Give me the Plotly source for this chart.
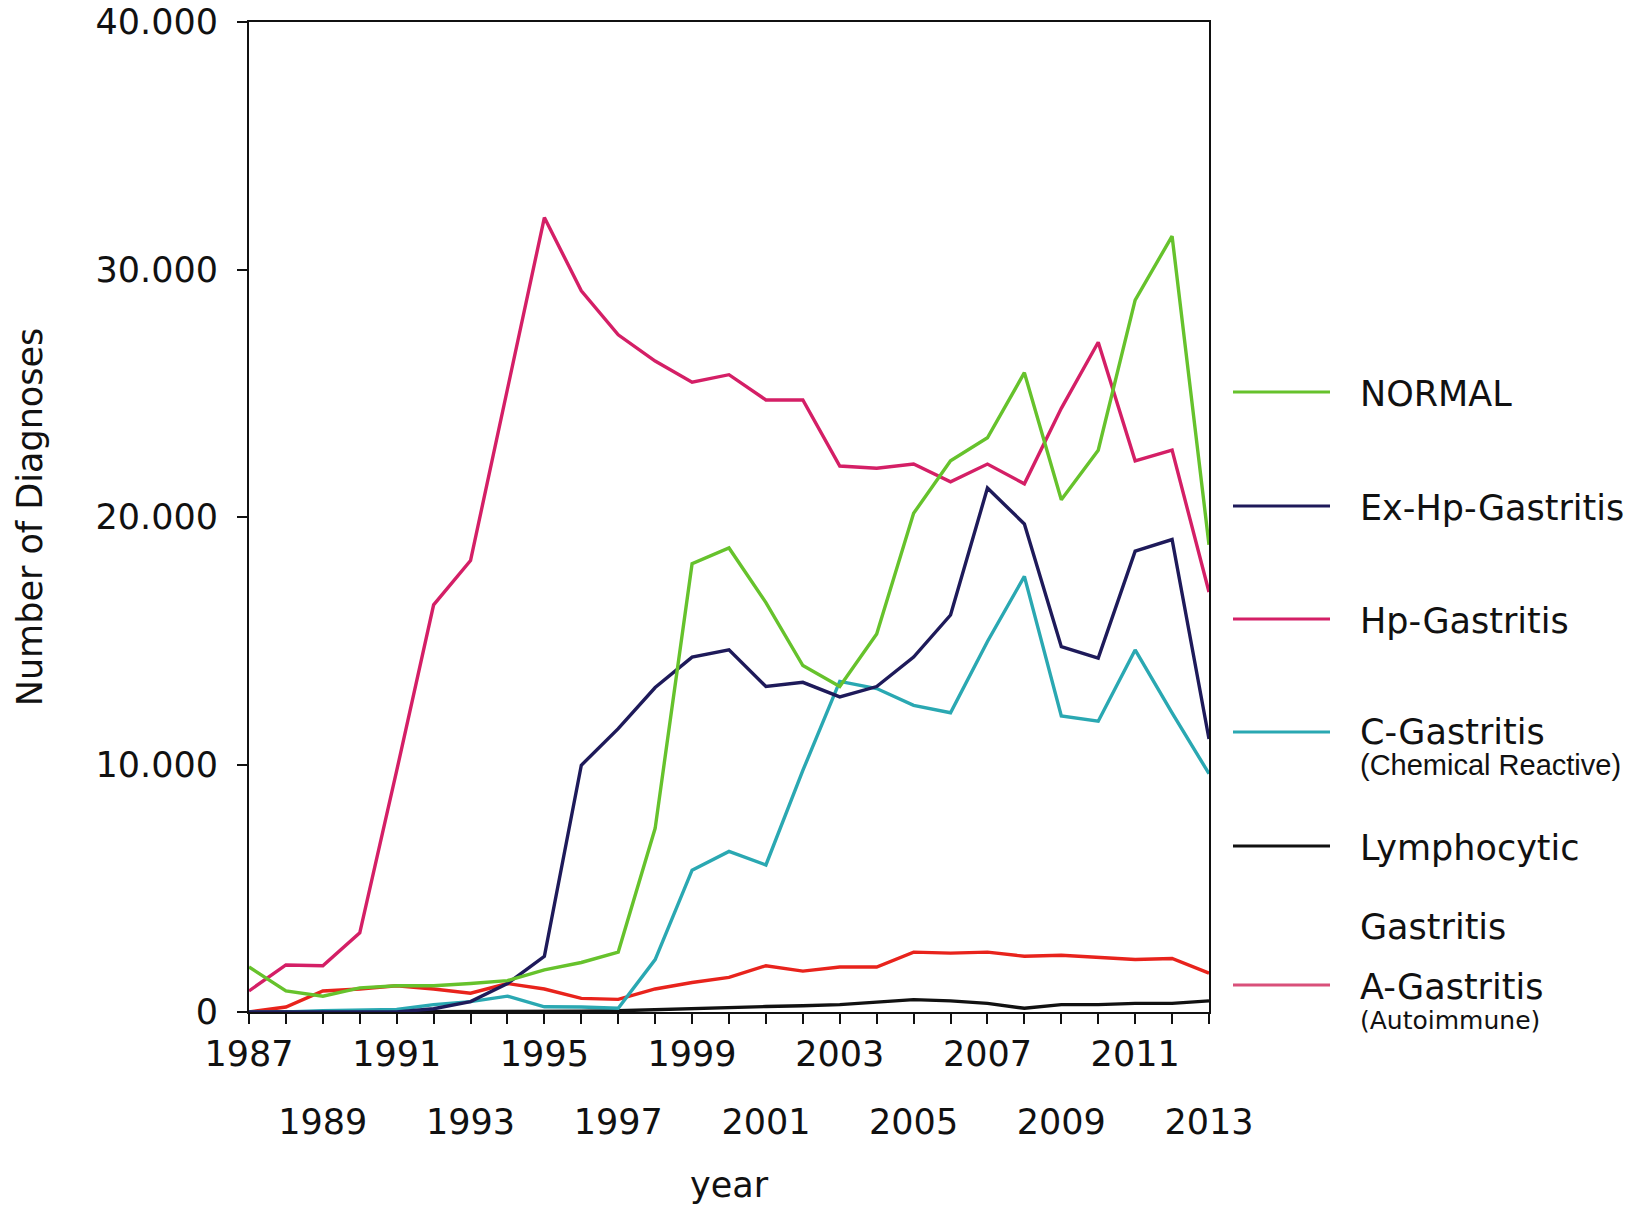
import plotly.graph_objects as go

years = list(range(1987, 2014))

normal = [1820, 850, 640, 975, 1060, 1060, 1150, 1270, 1700, 2000, 2420, 7420, 18110, 18750,
          16540, 14000, 13150, 15270, 20150, 22270, 23200, 25830, 20700, 22700, 28760, 31350, 18880]
ex_hp = [0, 0, 0, 0, 0, 130, 420, 1150, 2250, 9970, 11450, 13110, 14340, 14630,
         13150, 13320, 12730, 13150, 14340, 16040, 21170, 19720, 14760, 14300, 18620, 19090, 11030]
hp = [850, 1900, 1870, 3200, 9750, 16450, 18240, 25240, 32100, 29140, 27360, 26300, 25450, 25750,
      24730, 24730, 22060, 21970, 22140, 21420, 22140, 21340, 24390, 27060, 22270, 22700, 16970]
c_gas = [0, 0, 50, 80, 100, 300, 420, 640, 210, 200, 150, 2120, 5730, 6490,
         5940, 9760, 13360, 13070, 12390, 12090, 14970, 17600, 11960, 11750, 14630, 12090, 9630]
lympho = [0, 0, 0, 0, 0, 0, 0, 0, 20, 30, 50, 100, 150, 200,
          220, 250, 300, 400, 500, 450, 350, 150, 300, 300, 350, 350, 450]
a_gas = [0, 200, 850, 930, 1060, 930, 760, 1150, 930, 550, 510, 930, 1190, 1400,
         1870, 1650, 1820, 1820, 2420, 2380, 2420, 2250, 2290, 2200, 2120, 2160, 1570]

y_ticks = [0, 10000, 20000, 30000, 40000]
y_ticktext = ["0", "10.000", "20.000", "30.000", "40.000"]
x_row1 = list(range(1987, 2014, 4))
x_row2 = list(range(1989, 2014, 4))

series = [
    ("Lymphocytic Gastritis", lympho, "#111111"),
    ("A-Gastritis", a_gas, "#e8231c"),
    ("C-Gastritis", c_gas, "#2aa8b2"),
    ("Ex-Hp-Gastritis", ex_hp, "#1e1a5a"),
    ("Hp-Gastritis", hp, "#d41f66"),
    ("NORMAL", normal, "#66c22c"),
]

fig = go.Figure()
for name, vals, col in series:
    fig.add_trace(go.Scatter(x=years, y=vals, mode="lines", name=name,
                             line=dict(color=col, width=3.4), showlegend=False))
# helper trace for second row of year labels
fig.add_trace(go.Scatter(x=years, y=[None] * len(years), xaxis="x2", mode="lines",
                         showlegend=False, hoverinfo="skip"))

FONT = "DejaVu Sans"
fig.update_layout(
    width=1646, height=1206,
    paper_bgcolor="white", plot_bgcolor="white",
    margin=dict(l=249, r=437, t=22, b=194),
    font=dict(family=FONT, color="#111111"),
    xaxis=dict(range=[1987, 2013], tickvals=years,
               ticktext=[str(y) if y in x_row1 else "" for y in years],
               ticks="outside", ticklen=10, tickwidth=2, tickcolor="#111",
               showline=True, linecolor="#111", linewidth=2, mirror=True,
               showgrid=False, zeroline=False, automargin=False,
               tickfont=dict(size=35, family=FONT),
               title=dict(text="year", font=dict(size=35, family=FONT), standoff=99)),
    xaxis2=dict(range=[1987, 2013], overlaying="x", anchor="y", side="bottom",
                tickvals=x_row2, ticktext=[str(y) for y in x_row2],
                ticks="", showline=False, showgrid=False, zeroline=False,
                ticklabelstandoff=86, automargin=False,
                tickfont=dict(size=35, family=FONT)),
    yaxis=dict(range=[0, 40000], tickvals=y_ticks, ticktext=y_ticktext,
               ticks="outside", ticklen=10, tickwidth=2, tickcolor="#111",
               showline=True, linecolor="#111", linewidth=2, mirror=True,
               showgrid=False, zeroline=False, ticklabelstandoff=12, automargin=False,
               ticklabeloverflow="allow",
               tickfont=dict(size=35, family=FONT),
               title=dict(text="Number of Diagnoses", font=dict(size=35, family=FONT), standoff=42)),
)

# custom legend (reproduces reference layout); positions given in page pixels
def px_x(px):
    return (px - 249) / 960.0

def px_y(py):
    return (1012 - py) / 990.0

legend_items = [
    ("#66c22c", 392),
    ("#1e1a5a", 506),
    ("#d41f66", 619),
    ("#2aa8b2", 732),
    ("#111111", 846),
    ("#d9507a", 985),
]
for col, py in legend_items:
    fig.add_shape(type="line", xref="paper", yref="paper",
                  x0=px_x(1233), x1=px_x(1330), y0=px_y(py), y1=px_y(py),
                  line=dict(color=col, width=3))

labels = [
    ("NORMAL", 394, 35, FONT),
    ("Ex-Hp-Gastritis", 508, 35, FONT),
    ("Hp-Gastritis", 621, 35, FONT),
    ("C-Gastritis", 732, 35, FONT),
    ("(Chemical Reactive)", 765, 29, "Liberation Sans"),
    ("Lymphocytic", 848, 35, FONT),
    ("Gastritis", 927, 35, FONT),
    ("A-Gastritis", 987, 35, FONT),
    ("(Autoimmune)", 1020, 25, FONT),
]
for txt, py, sz, fam in labels:
    fig.add_annotation(text=txt, xref="paper", yref="paper", x=px_x(1358), y=px_y(py),
                       xanchor="left", yanchor="middle", showarrow=False,
                       font=dict(size=sz, family=fam, color="#111111"))

fig.write_html("out.html", config={"displayModeBar": False},
               post_script="document.body.style.margin='0';document.body.style.padding='0';")
